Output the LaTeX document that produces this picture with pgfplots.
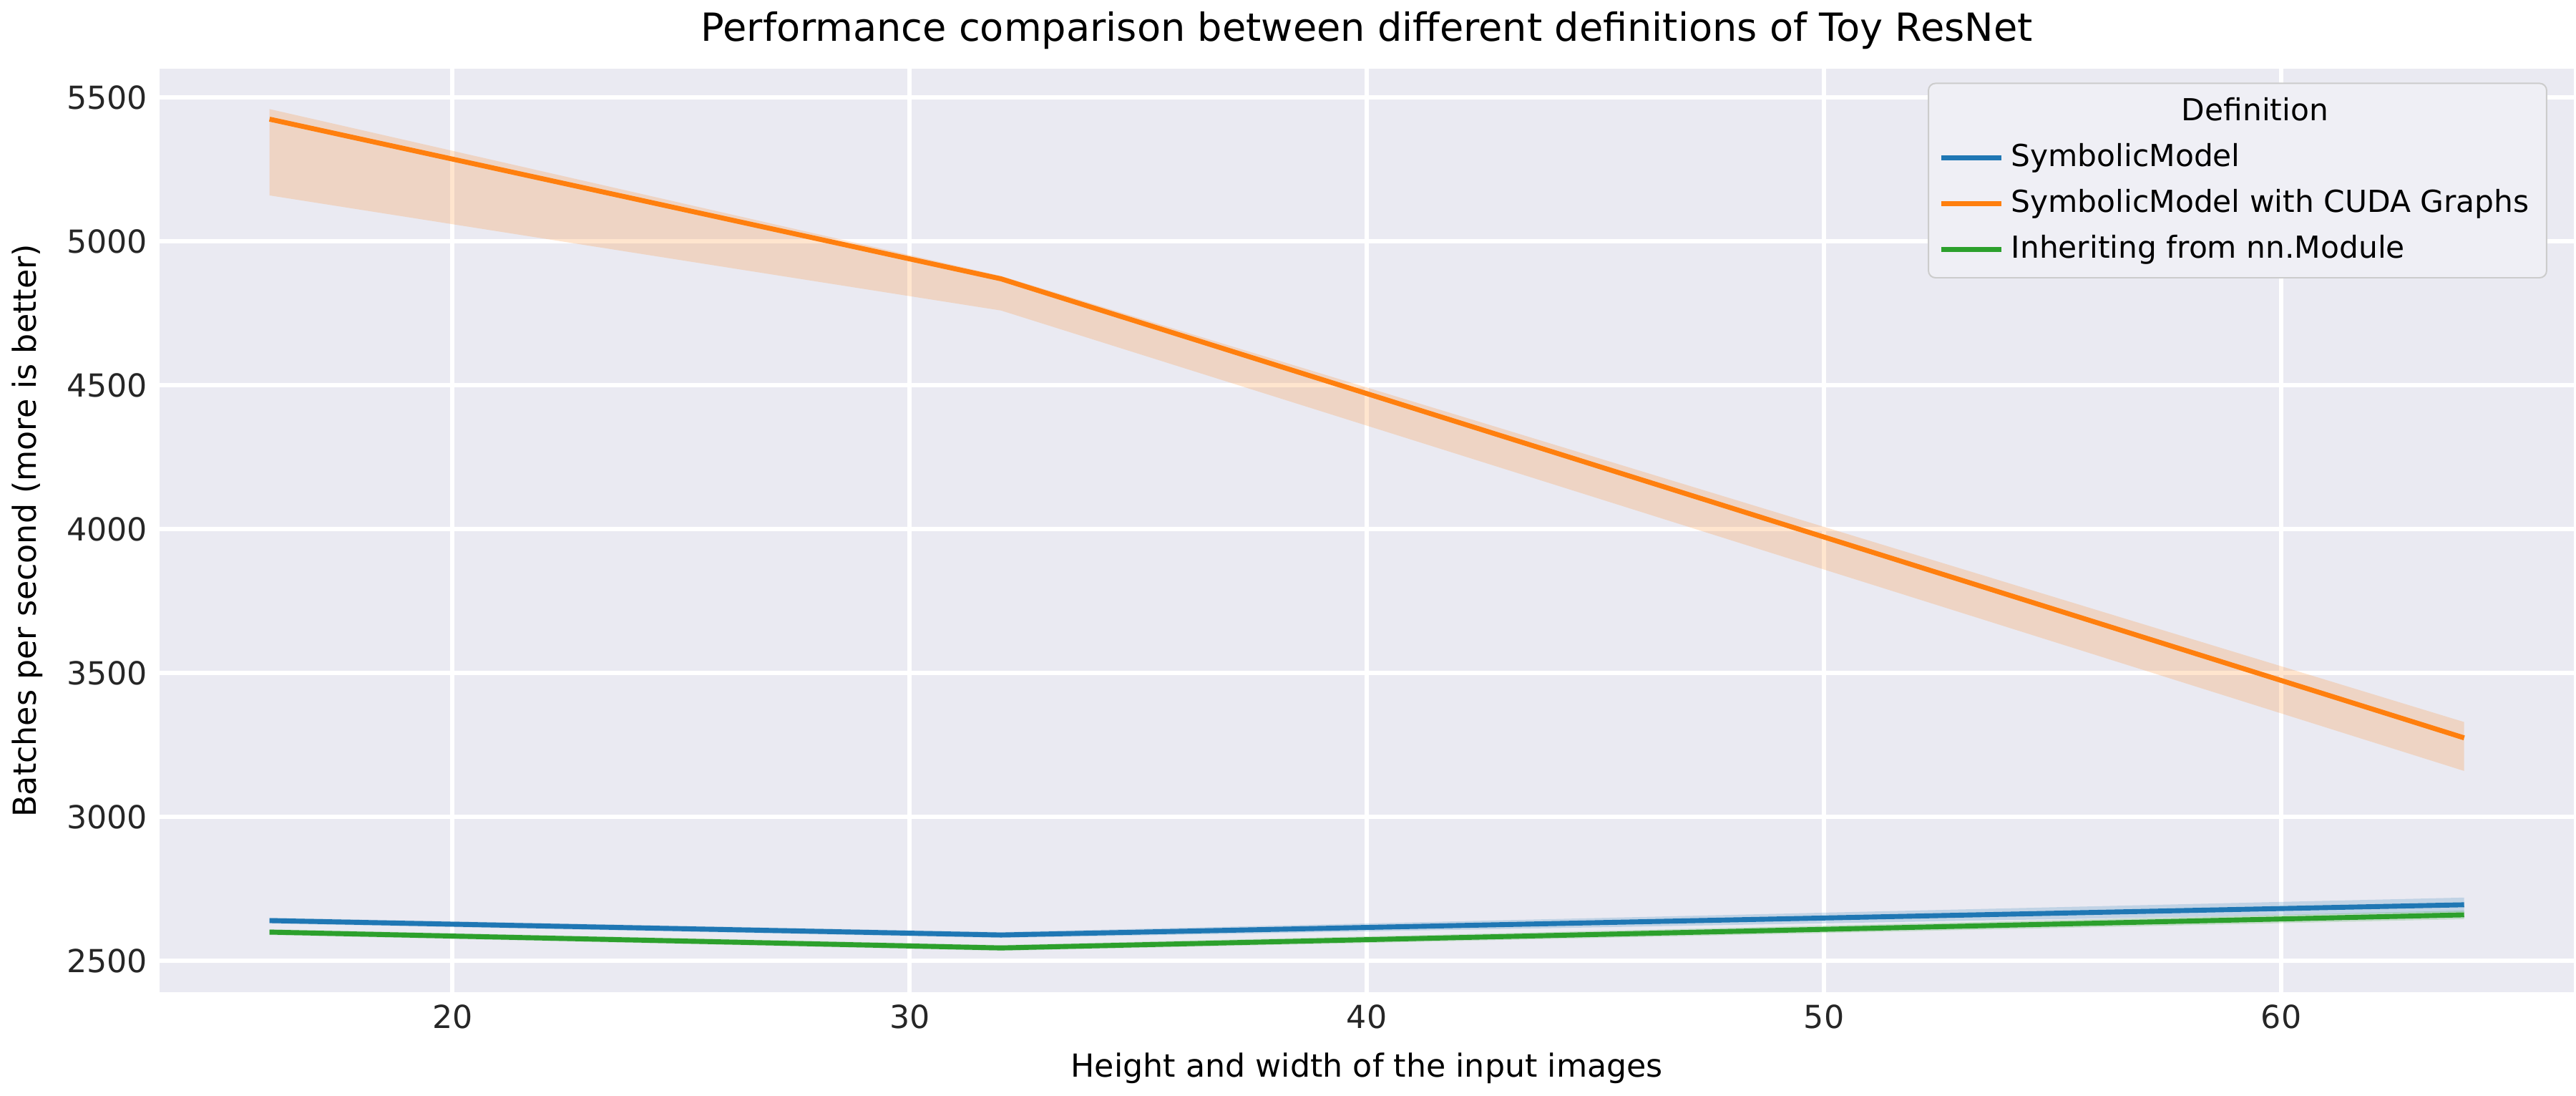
\documentclass[border=0pt]{standalone}
\usepackage{pgfplots}
\pgfplotsset{compat=1.18}
\usepackage{fontspec}
\setmainfont{DejaVu Sans}
\definecolor{sbblue}{HTML}{1F77B4}
\definecolor{sborange}{HTML}{FF7F0E}
\definecolor{sbgreen}{HTML}{2CA02C}
\definecolor{sbbg}{HTML}{EAEAF2}
\begin{document}
\begin{tikzpicture}
\begin{axis}[
  scale only axis, width=685pt, height=262pt,
  xmin=13.6, xmax=66.4, ymin=2390, ymax=5600,
  axis background/.style={fill=sbbg},
  axis line style={draw=none},
  major tick length=0pt,
  grid=major, grid style={white, line width=1.2pt},
  xtick={20,30,40,50,60},
  ytick={2500,3000,3500,4000,4500,5000,5500},
  /pgf/number format/assume math mode=true,
  yticklabel style={/pgf/number format/set thousands separator={}},
  ticklabel style={font=\fontsize{9}{11}\selectfont, color=black!85},
  label style={font=\fontsize{9}{11}\selectfont},
  xlabel={Height and width of the input images},
  ylabel={Batches per second (more is better)},
  title={Performance comparison between different definitions of Toy ResNet},
  title style={font=\fontsize{11}{13}\selectfont, yshift=-4pt},
  legend style={at={(0.989,0.985)}, anchor=north east, fill=sbbg!75!white, draw=black!20, rounded corners=2pt,
    font=\fontsize{8.6}{10.5}\selectfont, cells={anchor=west}, row sep=1pt},
  legend cell align=left,
]
\addplot[fill=sborange, fill opacity=0.2, draw=none, forget plot] coordinates {(16,5460) (32,4880) (64,3330) (64,3160) (32,4760) (16,5160)} -- cycle;
\addplot[fill=sbblue, fill opacity=0.2, draw=none, forget plot] coordinates {(16,2650) (32,2600) (64,2720) (64,2670) (32,2580) (16,2630)} -- cycle;
\addplot[fill=sbgreen, fill opacity=0.2, draw=none, forget plot] coordinates {(16,2610) (32,2555) (64,2675) (64,2645) (32,2535) (16,2590)} -- cycle;
\addlegendimage{empty legend}
\addlegendentry{\hspace{-0.6cm}\hspace{2.3cm}Definition}
\addplot[sbblue, line width=1.4pt] coordinates {(16,2640) (32,2590) (64,2695)};
\addlegendentry{SymbolicModel}
\addplot[sborange, line width=1.4pt] coordinates {(16,5425) (32,4870) (64,3275)};
\addlegendentry{SymbolicModel with CUDA Graphs}
\addplot[sbgreen, line width=1.4pt] coordinates {(16,2600) (32,2545) (64,2660)};
\addlegendentry{Inheriting from nn.Module}
\end{axis}
\end{tikzpicture}
\end{document}
